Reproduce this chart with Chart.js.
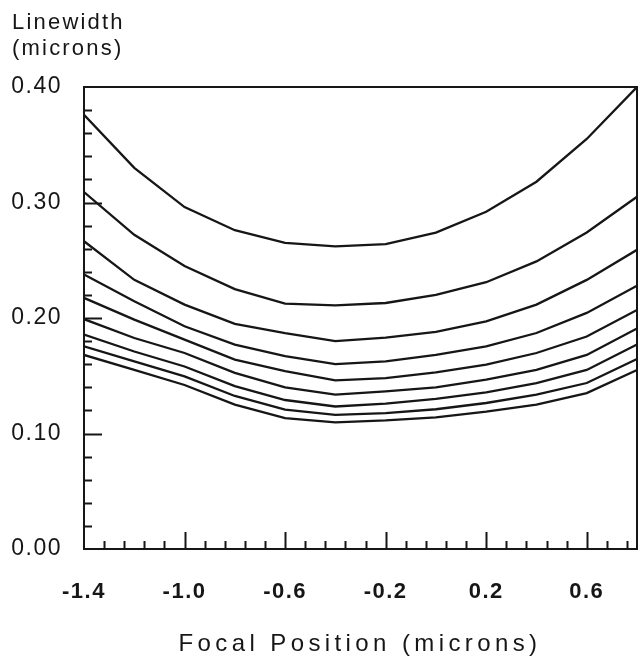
<!DOCTYPE html>
<html>
<head>
<meta charset="utf-8">
<script src="https://cdn.jsdelivr.net/npm/chart.js@4.4.1/dist/chart.umd.min.js"></script>
<style>
  body { margin: 0; background: #fff; }
  #wrap { width: 639px; height: 665px; }
</style>
</head>
<body>
<div id="wrap"><canvas id="chart" width="639" height="665"></canvas></div>
<script>
// Focal position (microns), one vertex every 0.2
const focus = [-1.4, -1.2, -1.0, -0.8, -0.6, -0.4, -0.2, 0.0, 0.2, 0.4, 0.6, 0.8];

// Linewidth curves (microns), top to bottom
const lw1 = [0.376, 0.330, 0.296, 0.276, 0.265, 0.262, 0.264, 0.274, 0.292, 0.318, 0.355, 0.400];
const lw2 = [0.309, 0.272, 0.245, 0.225, 0.2125, 0.211, 0.213, 0.220, 0.231, 0.249, 0.274, 0.305];
const lw3 = [0.2665, 0.233, 0.2116, 0.195, 0.187, 0.180, 0.183, 0.188, 0.197, 0.2116, 0.233, 0.259];
const lw4 = [0.2376, 0.2145, 0.1928, 0.177, 0.167, 0.160, 0.1625, 0.168, 0.1755, 0.187, 0.2044, 0.228];
const lw5 = [0.2174, 0.1986, 0.1813, 0.164, 0.154, 0.146, 0.148, 0.153, 0.1596, 0.1697, 0.184, 0.207];
const lw6 = [0.199, 0.1827, 0.1697, 0.1525, 0.140, 0.1336, 0.1364, 0.140, 0.1466, 0.155, 0.168, 0.191];
const lw7 = [0.1856, 0.171, 0.158, 0.141, 0.129, 0.1234, 0.1258, 0.130, 0.1356, 0.1437, 0.155, 0.177];
const lw8 = [0.1755, 0.1625, 0.1494, 0.1325, 0.1206, 0.1162, 0.1177, 0.121, 0.1264, 0.1336, 0.1437, 0.1645];
const lw9 = [0.168, 0.155, 0.142, 0.125, 0.1134, 0.1096, 0.1113, 0.114, 0.119, 0.125, 0.135, 0.155];

// Axes
const xTicks = [-1.4, -1.0, -0.6, -0.2, 0.2, 0.6];
const xTickLabels = ['-1.4', '-1.0', '-0.6', '-0.2', '0.2', '0.6'];
const yTicks = [0.0, 0.1, 0.2, 0.3, 0.4];
const yTickLabels = ['0.00', '0.10', '0.20', '0.30', '0.40'];
const xMinorStep = 0.08;
const yMinorStep = 0.02;
const xTitle = 'Focal Position (microns)';
const yTitle = ['Linewidth', '(microns)'];

const INK = '#161616';
const FONT = '"Liberation Sans", Arial, sans-serif';
const curves = [lw1, lw2, lw3, lw4, lw5, lw6, lw7, lw8, lw9];

// frame, inward tick marks and the titles
const framePlugin = {
    id: 'frame',
    beforeDraw(chart) {
        chart.ctx.letterSpacing = '1.5px';
    },
    afterDraw(chart) {
        const ctx = chart.ctx;
        const a = chart.chartArea;
        const xs = chart.scales.x;
        const ys = chart.scales.y;

        ctx.save();
        ctx.strokeStyle = INK;
        ctx.lineWidth = 2;
        ctx.strokeRect(a.left, a.top, a.right - a.left, a.bottom - a.top);

        ctx.beginPath();
        for (let k = 1; ; k++) {
            const v = xs.min + k * xMinorStep;
            if (v > xs.max - 1e-6) break;
            const px = Math.round(xs.getPixelForValue(v)) + 0.5;
            const len = k % 5 === 0 ? 17 : 8;
            ctx.moveTo(px, a.bottom);
            ctx.lineTo(px, a.bottom - len);
        }
        for (let k = 1; ; k++) {
            const v = ys.min + k * yMinorStep;
            if (v > ys.max - 1e-6) break;
            const py = Math.round(ys.getPixelForValue(v)) + 0.5;
            const len = k % 5 === 0 ? 18 : 8;
            ctx.moveTo(a.left, py);
            ctx.lineTo(a.left + len, py);
        }
        ctx.stroke();

        ctx.fillStyle = INK;
        ctx.textBaseline = 'alphabetic';
        ctx.textAlign = 'left';
        ctx.font = '22px ' + FONT;
        ctx.letterSpacing = '2.2px';
        ctx.fillText(yTitle[0], 12, 29);
        ctx.fillText(yTitle[1], 12, 55);

        ctx.font = '24px ' + FONT;
        ctx.letterSpacing = '4.4px';
        ctx.textAlign = 'center';
        ctx.fillText(xTitle, 360, 651);
        ctx.restore();
    }
};

new Chart(document.getElementById('chart'), {
    type: 'line',
    data: {
        datasets: curves.map(c => ({
            data: focus.map((x, i) => ({ x: x, y: c[i] })),
            borderColor: INK,
            borderWidth: 2.3,
            pointRadius: 0,
            tension: 0,
            fill: false
        }))
    },
    options: {
        responsive: false,
        animation: false,
        devicePixelRatio: 1,
        layout: { padding: { top: 87, right: 2, left: 0, bottom: 0 } },
        plugins: {
            legend: { display: false },
            tooltip: { enabled: false }
        },
        scales: {
            x: {
                type: 'linear',
                min: -1.4,
                max: 0.8,
                grid: { display: false, drawTicks: false },
                border: { display: false },
                afterBuildTicks: s => { s.ticks = xTicks.map(v => ({ value: v })); },
                afterFit: s => { s.height = 116; },
                ticks: {
                    autoSkip: false,
                    maxRotation: 0,
                    padding: 30,
                    color: INK,
                    font: { family: FONT, size: 22, weight: 'bold' },
                    callback: (v, i) => xTickLabels[i]
                }
            },
            y: {
                type: 'linear',
                min: 0,
                max: 0.4,
                grid: { display: false, drawTicks: false },
                border: { display: false },
                afterBuildTicks: s => { s.ticks = yTicks.map(v => ({ value: v })); },
                afterFit: s => { s.width = 84; },
                ticks: {
                    autoSkip: false,
                    padding: 22,
                    color: INK,
                    font: { family: FONT, size: 23 },
                    callback: (v, i) => yTickLabels[i]
                }
            }
        }
    },
    plugins: [framePlugin]
});
</script>
</body>
</html>
